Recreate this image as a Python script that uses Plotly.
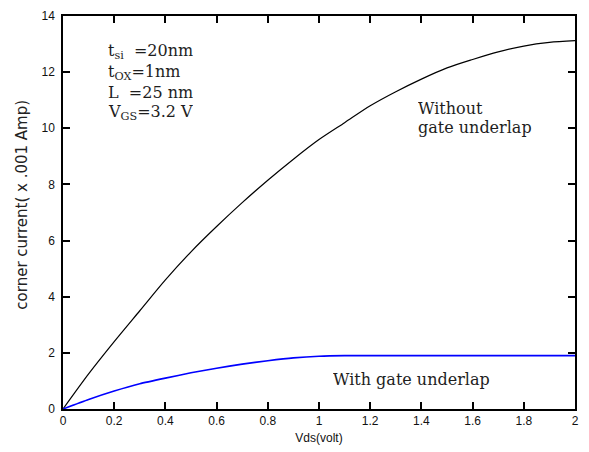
import plotly.graph_objects as go

# Data
vds = [0.0, 0.1, 0.2, 0.3, 0.4, 0.5, 0.6, 0.7, 0.8, 0.9, 1.0,
       1.1, 1.2, 1.3, 1.4, 1.5, 1.6, 1.7, 1.8, 1.9, 2.0]
without_underlap = [0.0, 1.25, 2.4, 3.5, 4.6, 5.6, 6.5, 7.35, 8.15, 8.9, 9.6,
                    10.2, 10.8, 11.3, 11.75, 12.15, 12.45, 12.72, 12.93, 13.06, 13.12]
with_underlap = [0.0, 0.34, 0.64, 0.9, 1.1, 1.29, 1.45, 1.6, 1.72, 1.82, 1.88,
                 1.9, 1.9, 1.9, 1.9, 1.9, 1.9, 1.9, 1.9, 1.9, 1.9]

x_ticks = [0, 0.2, 0.4, 0.6, 0.8, 1, 1.2, 1.4, 1.6, 1.8, 2]
x_tick_labels = ["0", "0.2", "0.4", "0.6", "0.8", "1", "1.2", "1.4", "1.6", "1.8", "2"]
y_ticks = [0, 2, 4, 6, 8, 10, 12, 14]
y_tick_labels = ["0", "2", "4", "6", "8", "10", "12", "14"]

param_lines = [
    "t<sub>si</sub>&nbsp;&nbsp;=20nm",
    "t<sub>OX</sub>=1nm",
    "L&nbsp;&nbsp;=25 nm",
    "V<sub>GS</sub>=3.2 V",
]

fig = go.Figure()
fig.add_trace(go.Scatter(x=vds, y=without_underlap, mode="lines",
                         line=dict(color="black", width=1.2, shape="spline", smoothing=0.8),
                         name="Without gate underlap", showlegend=False))
fig.add_trace(go.Scatter(x=vds, y=with_underlap, mode="lines",
                         line=dict(color="#0000ff", width=1.6, shape="spline", smoothing=0.5),
                         name="With gate underlap", showlegend=False))

serif = dict(family="DejaVu Serif", size=16, color="#1e1e1e")

param_y = [12.72, 12.0, 11.285, 10.57]
for txt, yy in zip(param_lines, param_y):
    fig.add_annotation(x=0.172, y=yy, xref="x", yref="y", text=txt,
                       showarrow=False, xanchor="left", yanchor="middle",
                       height=19, borderpad=0, font=serif)

fig.add_annotation(x=1.382, y=10.71, xref="x", yref="y", text="Without",
                   showarrow=False, xanchor="left", yanchor="middle",
                   height=17, borderpad=0, font=serif)
fig.add_annotation(x=1.382, y=10.03, xref="x", yref="y", text="gate underlap",
                   showarrow=False, xanchor="left", yanchor="middle",
                   height=21, borderpad=0, font=serif)
fig.add_annotation(x=1.05, y=1.06, xref="x", yref="y", text="With gate underlap",
                   showarrow=False, xanchor="left", yanchor="middle",
                   height=21, borderpad=0, font=serif)

# y-axis title
fig.add_annotation(x=-0.08, y=0.52, xref="paper", yref="paper",
                   text="corner current( x .001 Amp)", textangle=-90,
                   showarrow=False, xanchor="center", yanchor="middle",
                   font=dict(family="DejaVu Sans", size=15, color="#222222"))

axis_common = dict(showline=True, linecolor="black", linewidth=1.5, mirror="ticks",
                   ticks="inside", ticklen=7, tickwidth=1.5, tickcolor="black",
                   showgrid=False, zeroline=False,
                   tickfont=dict(family="Liberation Sans", size=12, color="#111111"))

fig.update_xaxes(range=[0, 2], tickvals=x_ticks, ticktext=x_tick_labels,
                 title=dict(text="Vds(volt)", standoff=6,
                            font=dict(family="Liberation Sans", size=12, color="#111111")),
                 **axis_common)
fig.update_yaxes(range=[0, 14], tickvals=y_ticks, ticktext=y_tick_labels,
                 ticklabelstandoff=4, **axis_common)

fig.update_layout(width=589, height=452,
                  margin=dict(l=63, r=14, t=9, b=43),
                  plot_bgcolor="white", paper_bgcolor="white")

fig.write_html("out.html")
